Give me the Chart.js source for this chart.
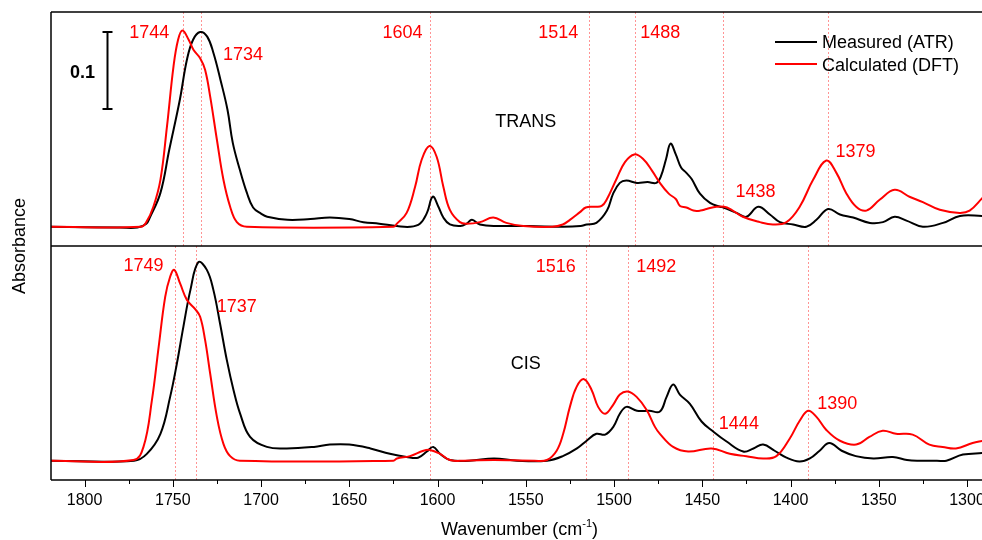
<!DOCTYPE html>
<html>
<head>
<meta charset="utf-8">
<script src="https://cdn.jsdelivr.net/npm/chart.js@4.4.1/dist/chart.umd.min.js"></script>
<style>
html, body { margin: 0; padding: 0; background: #fff; }
canvas { display: block; }
</style>
</head>
<body>
<canvas id="chart" width="982" height="540"></canvas>
<script>
// --- data: wavenumber (cm-1) / absorbance above each panel baseline ---
const transAtrWn = [1819, 1780, 1770, 1765, 1763, 1757, 1752, 1746, 1742, 1738.5, 1734.5, 1730.5, 1727, 1723, 1719, 1716, 1712, 1708, 1704.5, 1700, 1696.5, 1685, 1672, 1661, 1650, 1642, 1633, 1623, 1615.5, 1610, 1606, 1602.7, 1599.5, 1596.7, 1593, 1587, 1583.5, 1580.5, 1576, 1566, 1548, 1529, 1519, 1515.5, 1510, 1504, 1500.5, 1496.7, 1493, 1487, 1481, 1476, 1473.5, 1470.5, 1468, 1465, 1462, 1459, 1456, 1451.3, 1445.6, 1440, 1438, 1430.6, 1425, 1418.3, 1411.7, 1406, 1398.5, 1391, 1385.3, 1378.7, 1372, 1364.5, 1355, 1347.6, 1341, 1334.3, 1325, 1313.6, 1304, 1291];
const transAtrAbs = [0, -0.001, -0.001, 0.004, 0.012, 0.044, 0.100, 0.165, 0.217, 0.243, 0.253, 0.247, 0.226, 0.191, 0.152, 0.109, 0.074, 0.044, 0.025, 0.017, 0.013, 0.009, 0.010, 0.012, 0.010, 0.006, 0.004, 0.001, 0, 0.004, 0.018, 0.039, 0.026, 0.012, 0.003, 0.001, 0.004, 0.009, 0.003, 0.001, 0.001, 0, 0.001, 0.003, 0.005, 0.021, 0.043, 0.057, 0.060, 0.057, 0.058, 0.057, 0.065, 0.088, 0.108, 0.094, 0.077, 0.070, 0.062, 0.043, 0.031, 0.026, 0.025, 0.018, 0.013, 0.026, 0.016, 0.006, 0.003, 0, 0.009, 0.023, 0.016, 0.012, 0.005, 0.006, 0.013, 0.008, 0, 0.005, 0.014, 0.014];

const transDftWn = [1819, 1768, 1765, 1761, 1757, 1753.3, 1749.6, 1747, 1744.5, 1741, 1738.3, 1734.5, 1731.7, 1728.8, 1725, 1721.3, 1717.5, 1713.7, 1708, 1625, 1623, 1617.5, 1612.7, 1609, 1604.6, 1600.5, 1596.7, 1593, 1587.3, 1583.5, 1576, 1568.4, 1561, 1551.4, 1535, 1529, 1525, 1519.3, 1516, 1511, 1507, 1504.2, 1498.6, 1493.8, 1488.5, 1483.5, 1478.5, 1474, 1469, 1465, 1462.6, 1459, 1455, 1451, 1447.6, 1442, 1436, 1427, 1417.4, 1410, 1402.3, 1394.8, 1387.2, 1379.7, 1374, 1368.5, 1362.8, 1357, 1349.5, 1341, 1332.6, 1325, 1315.4, 1304.2, 1298.5, 1291];
const transDftAbs = [0, 0, 0.006, 0.026, 0.061, 0.130, 0.208, 0.243, 0.255, 0.243, 0.230, 0.219, 0.204, 0.169, 0.113, 0.061, 0.026, 0.006, 0, 0, 0.004, 0.018, 0.052, 0.087, 0.105, 0.091, 0.052, 0.022, 0.006, 0.004, 0.006, 0.012, 0.005, 0.001, 0, 0.003, 0.009, 0.019, 0.025, 0.026, 0.027, 0.035, 0.062, 0.084, 0.094, 0.088, 0.073, 0.057, 0.043, 0.036, 0.027, 0.025, 0.021, 0.021, 0.023, 0.026, 0.025, 0.013, 0.006, 0.003, 0.006, 0.026, 0.061, 0.086, 0.070, 0.044, 0.026, 0.021, 0.035, 0.048, 0.039, 0.032, 0.022, 0.018, 0.021, 0.038];

const cisAtrWn = [1819, 1772, 1764.7, 1757, 1751.5, 1747.7, 1744, 1740, 1735.5, 1730.7, 1727, 1723.2, 1719.4, 1715.6, 1711.8, 1706.2, 1696.7, 1685.4, 1670, 1661, 1650, 1638, 1627, 1617.5, 1611, 1606, 1602.4, 1598.6, 1593, 1582, 1568, 1555, 1538, 1529, 1521, 1515.5, 1510, 1505, 1500.4, 1496.7, 1493, 1487, 1480, 1474, 1470.2, 1466.5, 1462.7, 1457, 1450.4, 1443.8, 1436.2, 1426.8, 1421, 1415.5, 1409, 1402.3, 1395, 1389, 1383.5, 1378, 1371, 1363, 1353, 1342, 1334, 1327, 1317, 1311.7, 1302.3, 1291];
const cisAtrAbs = [0, 0, 0.009, 0.035, 0.083, 0.126, 0.174, 0.222, 0.258, 0.248, 0.222, 0.178, 0.131, 0.092, 0.061, 0.031, 0.018, 0.016, 0.018, 0.021, 0.021, 0.016, 0.009, 0.005, 0.004, 0.012, 0.018, 0.009, 0.001, 0, 0.003, 0, 0, 0.006, 0.016, 0.026, 0.035, 0.034, 0.044, 0.061, 0.070, 0.065, 0.065, 0.064, 0.083, 0.099, 0.086, 0.074, 0.051, 0.038, 0.025, 0.012, 0.016, 0.021, 0.013, 0.004, -0.001, 0.003, 0.013, 0.023, 0.013, 0.006, 0.003, 0.005, 0.001, 0, 0, 0, 0.008, 0.010];

const cisDftWn = [1819, 1772.3, 1766.6, 1761.8, 1758, 1754.3, 1751.5, 1749.2, 1745.8, 1742, 1737.3, 1734.5, 1731.7, 1728.8, 1725, 1721.3, 1717.5, 1712, 1625, 1623, 1615.6, 1608, 1604.3, 1598.6, 1593, 1585, 1568, 1545, 1538, 1532.5, 1528.8, 1525, 1521.2, 1517, 1512.7, 1509, 1505, 1500.4, 1496.7, 1492.3, 1487.2, 1481.5, 1476.8, 1474, 1466.5, 1458, 1444.7, 1434.4, 1425, 1415.5, 1408, 1400.4, 1394.8, 1390, 1385.3, 1379.7, 1372, 1362.8, 1355.3, 1347.8, 1340.2, 1330.8, 1321.3, 1313.8, 1306.3, 1296.8, 1291];
const cisDftAbs = [0, 0.001, 0.018, 0.079, 0.148, 0.213, 0.239, 0.248, 0.230, 0.209, 0.197, 0.187, 0.157, 0.113, 0.057, 0.022, 0.006, 0, 0, 0.003, 0.006, 0.013, 0.014, 0.009, 0.001, 0, 0.001, 0, 0.001, 0.013, 0.035, 0.070, 0.096, 0.106, 0.092, 0.070, 0.061, 0.073, 0.086, 0.090, 0.083, 0.066, 0.044, 0.035, 0.018, 0.012, 0.016, 0.009, 0.006, 0.003, 0.006, 0.029, 0.052, 0.065, 0.057, 0.040, 0.026, 0.021, 0.031, 0.039, 0.035, 0.034, 0.021, 0.018, 0.016, 0.023, 0.026];

const transPeaks = [1744, 1734, 1604, 1514, 1488, 1438, 1379];
const cisPeaks = [1749, 1737, 1604, 1516, 1492, 1444, 1390];
const cisLabelled = [1749, 1737, 1516, 1492, 1444, 1390];

const xTicks = [1800, 1750, 1700, 1650, 1600, 1550, 1500, 1450, 1400, 1350, 1300];
const xMinorTicks = [1775, 1725, 1675, 1625, 1575, 1525, 1475, 1425, 1375, 1325];
const panelNames = ['TRANS', 'CIS'];
const seriesNames = ['Measured (ATR)', 'Calculated (DFT)'];
const scaleBarValue = 0.1;

// --- layout ---
const X_MIN = 1291.5, X_MAX = 1819;
const Y_MIN = -0.025, PANEL = 0.304, Y_MAX = Y_MIN + 2 * PANEL;
const RED = '#ff0000';
const FONT = '"Liberation Sans", Arial, sans-serif';

// label placement: [dx from peak line, text baseline y, align]
const transLabelPos = [[-14, 37.5, 'right'], [22, 59.5, 'left'], [-8, 37.5, 'right'], [-11, 37.5, 'right'], [5, 37.5, 'left'], [12, 196.5, 'left'], [8, 156.5, 'left']];
const cisLabelPos = [[-11, 270.5, 'right'], [21, 311.5, 'left'], [-10, 271.5, 'right'], [8, 271.5, 'left'], [6, 428.5, 'left'], [9, 408.5, 'left']];

function pts(wn, abs, offset) {
    return wn.map((x, i) => ({ x: x, y: abs[i] + offset }));
}

function line(ctx, x1, y1, x2, y2) {
    ctx.beginPath();
    ctx.moveTo(x1, y1);
    ctx.lineTo(x2, y2);
    ctx.stroke();
}

const overlay = {
    id: 'overlay',
    beforeDatasetsDraw(chart) {
        const { ctx, chartArea: a, scales: { x, y } } = chart;
        const mid = y.getPixelForValue(Y_MIN + PANEL);
        ctx.save();
        ctx.strokeStyle = 'rgba(255,90,90,0.65)';
        ctx.lineWidth = 1;
        ctx.setLineDash([2, 2]);
        transPeaks.forEach(p => { const px = Math.round(x.getPixelForValue(p)) + 0.5; line(ctx, px, a.top, px, mid); });
        cisPeaks.forEach(p => { const px = Math.round(x.getPixelForValue(p)) + 0.5; line(ctx, px, mid, px, a.bottom); });
        ctx.restore();
    },
    afterDatasetsDraw(chart) {
        const { ctx, chartArea: a, scales: { x, y } } = chart;
        const mid = y.getPixelForValue(Y_MIN + PANEL);
        ctx.save();

        // frame
        ctx.strokeStyle = '#000';
        ctx.lineWidth = 1.5;
        line(ctx, a.left, a.top, a.left, a.bottom);
        line(ctx, a.left, a.top, a.right, a.top);
        line(ctx, a.left, mid, a.right, mid);
        line(ctx, a.left, a.bottom, a.right, a.bottom);

        // ticks
        ctx.lineWidth = 1;
        xTicks.forEach(v => { const px = Math.round(x.getPixelForValue(v)) + 0.5; line(ctx, px, a.bottom, px, a.bottom + 7); });
        xMinorTicks.forEach(v => { const px = Math.round(x.getPixelForValue(v)) + 0.5; line(ctx, px, a.bottom, px, a.bottom + 4); });
        ctx.fillStyle = '#000';
        ctx.font = '16px ' + FONT;
        ctx.textAlign = 'center';
        ctx.textBaseline = 'alphabetic';
        xTicks.forEach(v => ctx.fillText(String(v), x.getPixelForValue(v), 505));

        // axis titles
        ctx.font = '18px ' + FONT;
        const t1 = 'Wavenumber (cm', sup = '-1', t2 = ')';
        const w1 = ctx.measureText(t1).width, w2 = ctx.measureText(t2).width;
        ctx.font = '11px ' + FONT;
        const ws = ctx.measureText(sup).width;
        let sx = (a.left + a.right) / 2 + 3 - (w1 + ws + w2) / 2;
        ctx.textAlign = 'left';
        ctx.font = '18px ' + FONT;
        ctx.fillText(t1, sx, 535);
        ctx.font = '11px ' + FONT;
        ctx.fillText(sup, sx + w1, 527);
        ctx.font = '18px ' + FONT;
        ctx.fillText(t2, sx + w1 + ws, 535);

        ctx.save();
        ctx.translate(25, (a.top + a.bottom) / 2);
        ctx.rotate(-Math.PI / 2);
        ctx.textAlign = 'center';
        ctx.fillText('Absorbance', 0, 0);
        ctx.restore();

        // panel names
        ctx.textAlign = 'center';
        ctx.fillText(panelNames[0], x.getPixelForValue(1550), 126.5);
        ctx.fillText(panelNames[1], x.getPixelForValue(1550), 368.5);

        // peak labels
        ctx.fillStyle = RED;
        transPeaks.forEach((p, i) => {
            const [dx, ty, al] = transLabelPos[i];
            ctx.textAlign = al;
            ctx.fillText(String(p), x.getPixelForValue(p) + dx, ty);
        });
        cisLabelled.forEach((p, i) => {
            const [dx, ty, al] = cisLabelPos[i];
            ctx.textAlign = al;
            ctx.fillText(String(p), x.getPixelForValue(p) + dx, ty);
        });

        // legend
        ctx.textAlign = 'left';
        ctx.lineWidth = 2;
        [['#000', 48, 42], [RED, 71, 64]].forEach((s, i) => {
            ctx.strokeStyle = s[0];
            line(ctx, 775, s[2], 817, s[2]);
            ctx.fillStyle = '#000';
            ctx.fillText(seriesNames[i], 822, s[1]);
        });

        // 0.1 scale bar, drawn in top-panel absorbance units
        const barLo = y.getPixelForValue(Y_MIN + PANEL + 0.025 + 0.153);
        const barHi = y.getPixelForValue(Y_MIN + PANEL + 0.025 + 0.153 + scaleBarValue);
        const bx = 107.5;
        ctx.strokeStyle = '#000';
        ctx.lineWidth = 2;
        line(ctx, bx, barLo, bx, barHi);
        line(ctx, bx - 5, barLo, bx + 5, barLo);
        line(ctx, bx - 5, barHi, bx + 5, barHi);
        ctx.font = 'bold 18px ' + FONT;
        ctx.textAlign = 'right';
        ctx.fillStyle = '#000';
        ctx.fillText(String(scaleBarValue), 95, 78);

        ctx.restore();
    }
};

const base = { borderWidth: 2, pointRadius: 0, tension: 0.4, fill: false };
const topOffset = PANEL;

new Chart(document.getElementById('chart').getContext('2d'), {
    type: 'line',
    data: {
        datasets: [
            Object.assign({ label: seriesNames[1] + ' trans', data: pts(transDftWn, transDftAbs, topOffset), borderColor: RED, order: 0 }, base),
            Object.assign({ label: seriesNames[1] + ' cis', data: pts(cisDftWn, cisDftAbs, 0), borderColor: RED, order: 0 }, base),
            Object.assign({ label: seriesNames[0] + ' trans', data: pts(transAtrWn, transAtrAbs, topOffset), borderColor: '#000', order: 1 }, base),
            Object.assign({ label: seriesNames[0] + ' cis', data: pts(cisAtrWn, cisAtrAbs, 0), borderColor: '#000', order: 1 }, base)
        ]
    },
    options: {
        responsive: false,
        animation: false,
        layout: { padding: { left: 51, right: 0, top: 12, bottom: 60 } },
        scales: {
            x: { type: 'linear', min: X_MIN, max: X_MAX, reverse: true, display: false },
            y: { type: 'linear', min: Y_MIN, max: Y_MAX, display: false }
        },
        plugins: { legend: { display: false }, tooltip: { enabled: false } }
    },
    plugins: [overlay]
});
</script>
</body>
</html>
